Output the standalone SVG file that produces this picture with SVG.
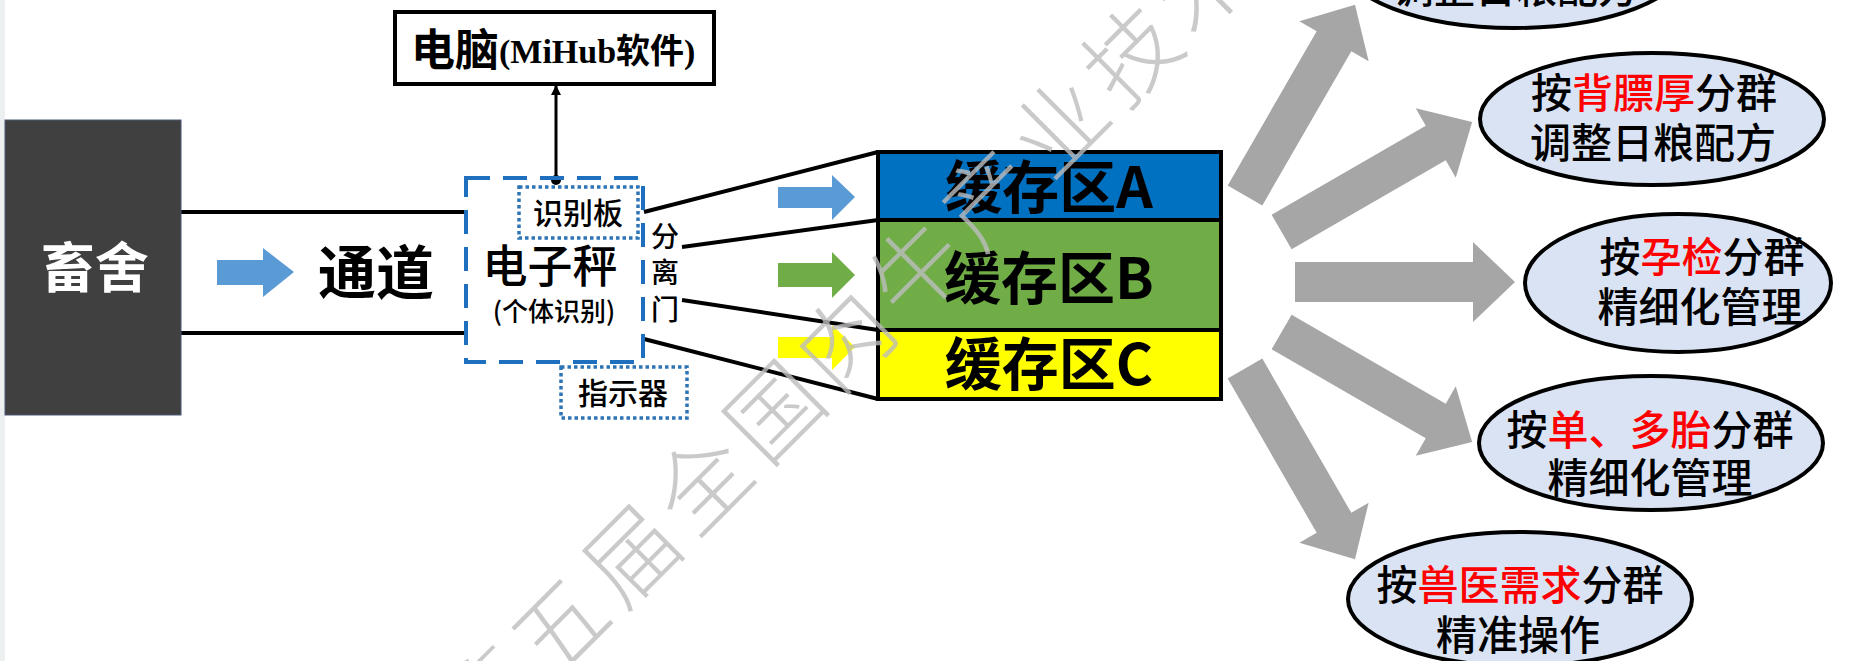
<svg xmlns="http://www.w3.org/2000/svg" width="1872" height="661" viewBox="0 0 1872 661">
<style>
.cjk{font-family:"Noto Sans CJK SC","Noto Sans",sans-serif;font-weight:700;}
.med{font-weight:500;}
.blk{fill:#000;}
.red{fill:#ff0000;}
.ln{stroke:#000;stroke-width:4;fill:none;}
.dot{fill:none;stroke:#2e75b6;stroke-width:3.5;stroke-dasharray:3.5 3;}
.ell{fill:#dae3f3;stroke:#000;stroke-width:4;}
.garr{fill:#a6a6a6;}
.et{font-size:41px;text-anchor:middle;font-weight:500;}
.wm{font-family:"Noto Sans CJK SC",sans-serif;font-weight:300;font-size:92px;fill:#bdbdbd;text-anchor:middle;}
</style>
<defs>
<polygon id="bigArrow" points="100,-20 278,-20 278,-40 320,0 278,40 278,20 100,20"/>
<marker id="ah" markerWidth="10" markerHeight="10" refX="9" refY="5" orient="auto" markerUnits="userSpaceOnUse">
<path d="M0,0 L10,5 L0,10 z" fill="#000"/>
</marker>
</defs>
<rect x="0" y="0" width="1872" height="661" fill="#fff"/>
<rect x="0" y="0" width="5" height="661" fill="#edf0f0"/>

<g id="connectors">
<line class="ln" x1="181" y1="212" x2="466" y2="212"/>
<line class="ln" x1="181" y1="333" x2="466" y2="333"/>
<polygon fill="#5b9bd5" points="217,260 263,260 263,248 294,272 263,297 263,285 217,285"/>
<line x1="556" y1="180" x2="556" y2="86" stroke="#000" stroke-width="3" marker-end="url(#ah)"/>
<circle cx="556" cy="180" r="5" fill="#000"/>
<line class="ln" x1="644" y1="212" x2="878" y2="152"/>
<line class="ln" x1="682" y1="247" x2="878" y2="220"/>
<line class="ln" x1="682" y1="300" x2="878" y2="330"/>
<line class="ln" x1="644" y1="339" x2="878" y2="399"/>
<polygon fill="#5b9bd5" points="778,187 832,187 832,175 855,197 832,220 832,208 778,208"/>
<polygon fill="#70ad47" points="778,263 832,263 832,252 855,275 832,298 832,287 778,287"/>
<polygon fill="#ffff00" points="778,337 832,337 832,325 855,347 832,370 832,358 778,358"/>
<g class="garr" transform="translate(1195,282)">
<use href="#bigArrow" transform="rotate(-60)"/>
<use href="#bigArrow" transform="rotate(-30)"/>
<use href="#bigArrow"/>
<use href="#bigArrow" transform="rotate(30)"/>
<use href="#bigArrow" transform="rotate(60)"/>
</g>
</g>

<g id="barn">
<rect x="5" y="120" width="176" height="295" fill="#404040" stroke="#4a5a78" stroke-width="1"/>
<text class="cjk" x="95" y="288" font-size="54" fill="#fff" text-anchor="middle">畜舍</text>
</g>

<g id="channel">
<text class="cjk blk" x="376" y="294" font-size="58" text-anchor="middle">通道</text>
</g>

<g id="scale">
<rect x="466" y="178" width="177" height="184" fill="none" stroke="#1f6fbf" stroke-width="4" stroke-dasharray="24 13"/>
<text class="cjk med blk" x="550" y="283" font-size="45" text-anchor="middle">电子秤</text>
<text class="cjk med blk" x="554" y="321" font-size="26" text-anchor="middle">(个体识别)</text>
</g>

<g id="idboard">
<rect class="dot" x="519" y="187" width="119" height="51"/>
<text class="cjk med blk" x="578" y="224" font-size="30" text-anchor="middle">识别板</text>
</g>

<g id="indicator">
<rect class="dot" x="561" y="367" width="126" height="51"/>
<text class="cjk med blk" x="623" y="404" font-size="30" text-anchor="middle">指示器</text>
</g>

<g id="gate">
<text class="cjk med blk" font-size="28" text-anchor="middle">
<tspan x="665" y="247">分</tspan><tspan x="665" y="283">离</tspan><tspan x="665" y="320">门</tspan>
</text>
</g>

<g id="computer">
<rect x="395" y="12" width="319" height="72" fill="#fff" stroke="#000" stroke-width="4"/>
<text class="blk" x="411" y="66"><tspan class="cjk" font-size="44">电脑</tspan><tspan font-family="'Liberation Serif','Noto Sans CJK SC',serif" font-weight="700" font-size="34" dy="-3">(MiHub软件)</tspan></text>
</g>

<g id="buffer">
<rect x="878" y="152" width="343" height="68" fill="#0070c0" stroke="#000" stroke-width="4"/>
<rect x="878" y="220" width="343" height="110" fill="#70ad47" stroke="#000" stroke-width="4"/>
<rect x="878" y="330" width="343" height="69" fill="#ffff00" stroke="#000" stroke-width="4"/>
<text class="cjk blk" x="1049" y="208" font-size="57" text-anchor="middle">缓存区A</text>
<text class="cjk blk" x="1049" y="299" font-size="57" text-anchor="middle">缓存区B</text>
<text class="cjk blk" x="1049" y="385" font-size="57" text-anchor="middle">缓存区C</text>
</g>

<g id="group-weight">
<ellipse class="ell" cx="1514" cy="-39" rx="172" ry="67"/>
<text class="cjk blk et" x="1516" y="3">调整日粮配方</text>
</g>

<g id="group-backfat">
<ellipse class="ell" cx="1652" cy="119" rx="172" ry="66"/>
<text class="cjk et" x="1654" y="108"><tspan class="blk">按</tspan><tspan class="red">背膘厚</tspan><tspan class="blk">分群</tspan></text>
<text class="cjk blk et" x="1653" y="158">调整日粮配方</text>
</g>

<g id="group-pregnancy">
<ellipse class="ell" cx="1678" cy="283" rx="153" ry="69"/>
<text class="cjk et" x="1702" y="272"><tspan class="blk">按</tspan><tspan class="red">孕检</tspan><tspan class="blk">分群</tspan></text>
<text class="cjk blk et" x="1700" y="322">精细化管理</text>
</g>

<g id="group-litter">
<ellipse class="ell" cx="1651" cy="443" rx="172" ry="67"/>
<text class="cjk et" x="1650" y="445"><tspan class="blk">按</tspan><tspan class="red">单、多胎</tspan><tspan class="blk">分群</tspan></text>
<text class="cjk blk et" x="1650" y="493">精细化管理</text>
</g>

<g id="group-vet">
<ellipse class="ell" cx="1520" cy="599" rx="172" ry="67"/>
<text class="cjk et" x="1520" y="600"><tspan class="blk">按</tspan><tspan class="red">兽医需求</tspan><tspan class="blk">分群</tspan></text>
<text class="cjk blk et" x="1518" y="650">精准操作</text>
</g>

<g id="watermark" opacity="0.8">
<text class="wm" x="490" y="731" transform="rotate(-45 490 699)">第</text>
<text class="wm" x="561" y="660" transform="rotate(-45 561 628)">五</text>
<text class="wm" x="633" y="588" transform="rotate(-45 633 556)">届</text>
<text class="wm" x="704" y="517" transform="rotate(-45 704 485)">全</text>
<text class="wm" x="776" y="445" transform="rotate(-45 776 413)">国</text>
<text class="wm" x="847" y="374" transform="rotate(-45 847 342)">肉</text>
<text class="wm" x="918" y="303" transform="rotate(-45 918 271)">牛</text>
<text class="wm" x="990" y="231" transform="rotate(-45 990 199)">产</text>
<text class="wm" x="1061" y="160" transform="rotate(-45 1061 128)">业</text>
<text class="wm" x="1133" y="88" transform="rotate(-45 1133 56)">技</text>
<text class="wm" x="1204" y="17" transform="rotate(-45 1204 -15)">术</text>
</g>
</svg>
